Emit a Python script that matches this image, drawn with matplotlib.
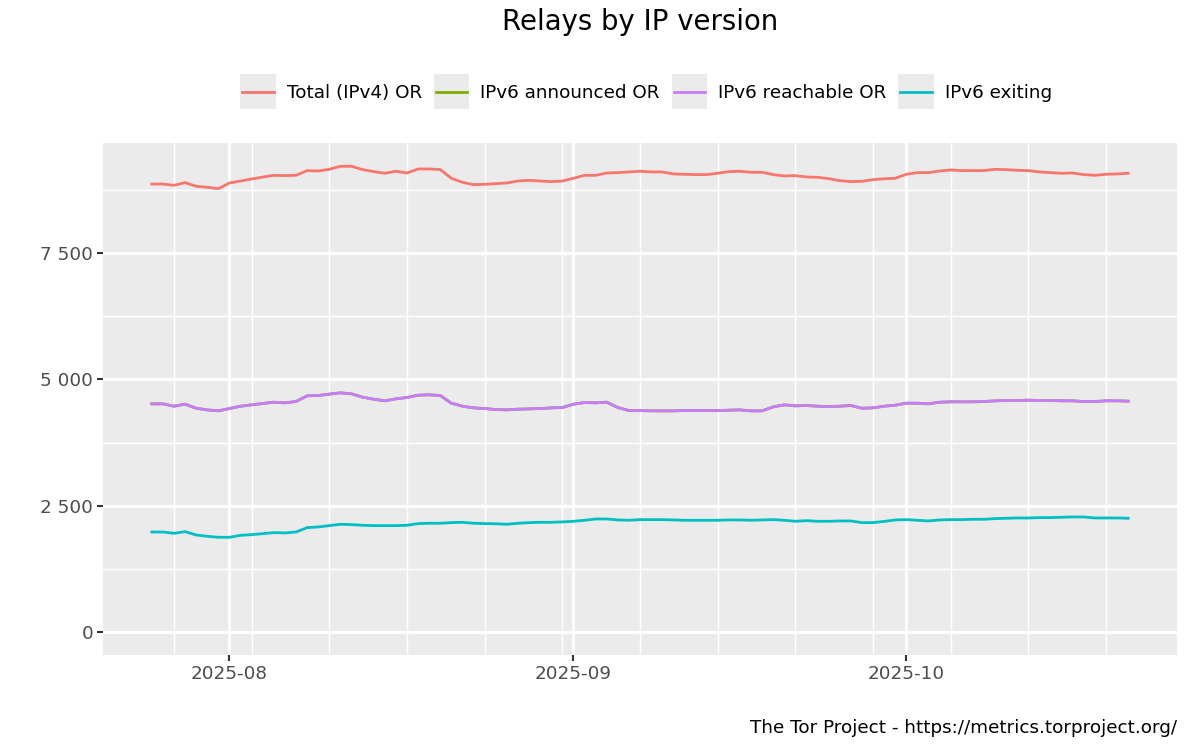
import matplotlib
matplotlib.use("Agg")
import matplotlib.pyplot as plt
import matplotlib.dates as mdates
from matplotlib.patches import Rectangle
from matplotlib.lines import Line2D
from matplotlib.legend_handler import HandlerBase
from matplotlib.ticker import FuncFormatter, FixedLocator
import pandas as pd
import numpy as np

plt.rcParams['font.family'] = ['DejaVu Sans']

start_date = "2025-07-25"
n_days = 89

total_ipv4 = [8874, 8874, 8849, 8902, 8829, 8809, 8783, 8895, 8934, 8974,
              9012, 9047, 9041, 9047, 9140, 9132, 9166, 9226, 9226, 9160,
              9120, 9087, 9127, 9093, 9173, 9173, 9160, 8988, 8908, 8862,
              8868, 8882, 8895, 8934, 8948, 8934, 8922, 8934, 8988, 9047,
              9047, 9093, 9100, 9114, 9127, 9114, 9114, 9074, 9067, 9061,
              9061, 9087, 9120, 9127, 9107, 9107, 9061, 9034, 9041, 9014,
              9008, 8981, 8941, 8922, 8928, 8961, 8978, 8988, 9067, 9100,
              9100, 9132, 9153, 9140, 9140, 9140, 9166, 9160, 9146, 9140,
              9114, 9100, 9087, 9093, 9061, 9047, 9067, 9074, 9087]

ipv6_reachable = [4517, 4517, 4470, 4510, 4430, 4397, 4378, 4424, 4470, 4497,
                  4524, 4550, 4537, 4563, 4676, 4682, 4709, 4735, 4715, 4649,
                  4609, 4577, 4616, 4643, 4689, 4696, 4682, 4530, 4470, 4437,
                  4424, 4404, 4397, 4411, 4417, 4424, 4437, 4444, 4510, 4543,
                  4537, 4550, 4444, 4384, 4384, 4378, 4378, 4378, 4384, 4384,
                  4384, 4384, 4391, 4397, 4378, 4378, 4457, 4497, 4477, 4484,
                  4470, 4464, 4470, 4484, 4430, 4437, 4470, 4490, 4530, 4530,
                  4517, 4550, 4557, 4557, 4557, 4563, 4577, 4583, 4583, 4590,
                  4583, 4583, 4577, 4577, 4563, 4563, 4577, 4577, 4570]

ipv6_announced = list(ipv6_reachable)

ipv6_exiting = [1977, 1977, 1951, 1984, 1918, 1891, 1872, 1872, 1911, 1924,
                1944, 1964, 1958, 1977, 2063, 2077, 2103, 2130, 2123, 2110,
                2103, 2103, 2103, 2110, 2143, 2150, 2150, 2163, 2169, 2150,
                2143, 2140, 2130, 2150, 2163, 2169, 2169, 2176, 2189, 2209,
                2235, 2235, 2216, 2209, 2222, 2222, 2222, 2216, 2209, 2209,
                2209, 2209, 2216, 2216, 2209, 2216, 2222, 2209, 2189, 2202,
                2189, 2189, 2196, 2196, 2163, 2163, 2186, 2216, 2222, 2209,
                2196, 2216, 2222, 2222, 2229, 2229, 2242, 2249, 2255, 2255,
                2262, 2262, 2269, 2275, 2275, 2255, 2255, 2255, 2249]

series_names = ["Total (IPv4) OR", "IPv6 announced OR", "IPv6 reachable OR", "IPv6 exiting"]
series_colors = ["#F8766D", "#7CAE00", "#C77CFF", "#00BFC4"]
series_values = [total_ipv4, ipv6_announced, ipv6_reachable, ipv6_exiting]

x_tick_dates = ["2025-08-01", "2025-09-01", "2025-10-01"]
x_tick_labels = ["2025-08", "2025-09", "2025-10"]
y_ticks = [0, 2500, 5000, 7500]
y_minor = [1250, 3750, 6250, 8750]

title = "Relays by IP version"
caption = "The Tor Project - https://metrics.torproject.org/"

dates = pd.date_range(start_date, periods=n_days, freq="D")

W, H = 1200, 750
fig = plt.figure(figsize=(12, 7.5), dpi=100)
L, R, T, B = 103, 1177, 143, 655
ax = fig.add_axes([L / W, 1 - B / H, (R - L) / W, (B - T) / H])
ax.set_facecolor("#EBEBEB")
for s in ax.spines.values():
    s.set_visible(False)

lw = 2.0
lines = []
for name, col, vals in zip(series_names, series_colors, series_values):
    ln, = ax.plot(dates, vals, color=col, lw=lw, solid_joinstyle="round", zorder=3, label=name)
    lines.append(ln)

# limits with 5% expansion
x0 = mdates.date2num(dates[0]); x1 = mdates.date2num(dates[-1])
dx = (x1 - x0) * 0.05
ax.set_xlim(x0 - dx, x1 + dx)
ymax = max(max(v) for v in series_values)
ax.set_ylim(-0.05 * ymax, 1.05 * ymax)

major_x = [mdates.date2num(pd.Timestamp(d)) for d in x_tick_dates]
sundays = [mdates.date2num(d) for d in dates if d.dayofweek == 6]
ax.xaxis.set_major_locator(FixedLocator(major_x))
ax.xaxis.set_minor_locator(FixedLocator(sundays))
ax.set_xticklabels(x_tick_labels)
ax.yaxis.set_major_locator(FixedLocator(y_ticks))
ax.yaxis.set_minor_locator(FixedLocator(y_minor))
ax.yaxis.set_major_formatter(FuncFormatter(lambda v, p: f"{int(v):,}".replace(",", " ")))

ax.grid(which="major", color="white", lw=2.1, zorder=1)
ax.grid(which="minor", color="white", lw=1.05, zorder=1)
ax.set_axisbelow(True)
ax.tick_params(which="major", length=4.1, width=1.5, color="#333333",
               labelsize=13.2, labelcolor="#4D4D4D", pad=3)
ax.tick_params(which="minor", length=0)

fig.text((L + R) / 2 / W, 1 - 22 / H, title, ha="center", va="center", fontsize=19.8, color="black")
fig.text(R / W, 1 - 728 / H, caption, ha="right", va="center", fontsize=13.2, color="black")

KEY = 25.5  # key box size in points (~35 px)
OFF = 2.6   # shift of key centre down, points


class KeyHandler(HandlerBase):
    def create_artists(self, legend, orig_handle, xdescent, ydescent,
                       width, height, fontsize, trans):
        cy = (height - ydescent) / 2.0 - OFF
        rect = Rectangle((-xdescent, cy - KEY / 2.0), width, KEY,
                         facecolor="#EBEBEB", edgecolor="none", transform=trans)
        line = Line2D([-xdescent + 1.5, -xdescent + width - 1.5], [cy, cy],
                      color=orig_handle.get_color(), lw=orig_handle.get_linewidth(),
                      transform=trans)
        return [rect, line]


leg = fig.legend(lines, series_names, loc="center",
                 bbox_to_anchor=((L + R) / 2 / W + 0.005, 1 - 92 / H),
                 ncol=4, frameon=False, fontsize=13.2, handlelength=KEY / 13.2, handleheight=1.95,
                 handletextpad=0.6, columnspacing=0.65, borderaxespad=0,
                 handler_map={Line2D: KeyHandler()})

fig.savefig("out.png", dpi=100)
